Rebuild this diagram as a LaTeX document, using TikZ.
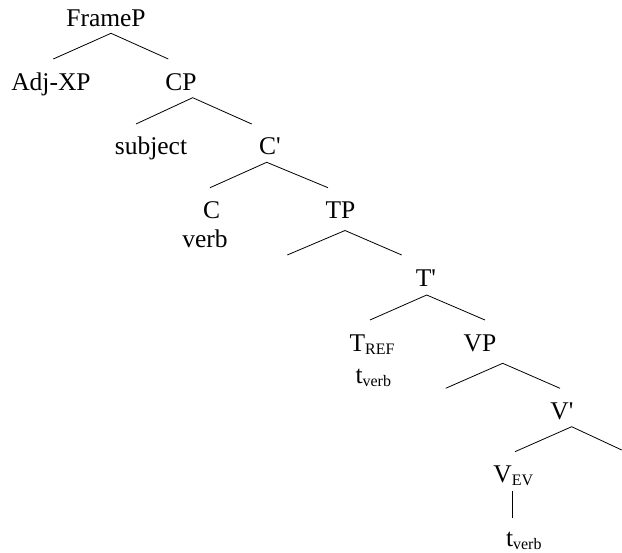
\documentclass[tikz,border=0pt]{standalone}
\usepackage{fontspec}
\setmainfont{Liberation Serif}
\newcommand{\lowsub}[1]{\raisebox{-3pt}{\fontsize{16}{16}\selectfont #1}}

\begin{document}
\begin{tikzpicture}[x=1pt,y=-1pt,
    lbl/.style={font=\fontsize{25.5}{30}\selectfont, anchor=base, inner sep=0pt},
    branch/.style={line width=0.8pt}]
    \useasboundingbox (0,0) rectangle (622,553);
    % % ----- nodes ----- % %
    \node[lbl] (FrameP) at (106,26.7) {FrameP};
    \node[lbl] (AdjXP) at (51,90.7) {Adj-XP};
    \node[lbl] (CP) at (181,90.7) {CP};
    \node[lbl] (subject) at (151,155) {subject};
    \node[lbl] (Cbar) at (270,155) {C\textquotesingle};
    \node[lbl] (C) at (211.7,218.5) {C};
    \node[lbl] (verb) at (205,248) {verb};
    \node[lbl] (TP) at (340.5,218.5) {TP};
    \node[lbl] (Tbar) at (426,286.7) {T\textquotesingle};
    \node[lbl] (Tref) at (372,351.5) {T\lowsub{REF}};
    \node[lbl] (tverbT) at (373.3,384) {t\lowsub{verb}};
    \node[lbl] (VP) at (480,351.5) {VP};
    \node[lbl] (Vbar) at (562,420) {V\textquotesingle};
    \node[lbl] (Vev) at (513.3,483) {V\lowsub{EV}};
    \node[lbl] (tverbV) at (523.8,547) {t\lowsub{verb}};
    % % ----- branch points ----- % %
    \coordinate (FrameP-top) at (111,33.3);   \coordinate (FrameP-l) at (53.3,59);   \coordinate (FrameP-r) at (168.3,59);
    \coordinate (CP-top) at (192.7,97.7);     \coordinate (CP-l) at (136,124);       \coordinate (CP-r) at (251.7,124);
    \coordinate (Cbar-top) at (266.7,162.3);  \coordinate (Cbar-l) at (210,187.7);   \coordinate (Cbar-r) at (328,187.7);
    \coordinate (TP-top) at (345,230.5);      \coordinate (TP-l) at (287.3,255);     \coordinate (TP-r) at (401.7,255);
    \coordinate (Tbar-top) at (426.7,295);    \coordinate (Tbar-l) at (370,320);     \coordinate (Tbar-r) at (485,320);
    \coordinate (VP-top) at (502.7,363.3);    \coordinate (VP-l) at (445.7,388.3);   \coordinate (VP-r) at (560,388.3);
    \coordinate (Vbar-top) at (571.7,426.7);  \coordinate (Vbar-l) at (515,451.7);   \coordinate (Vbar-r) at (621.7,450);
    \coordinate (Vev-top) at (512.3,491);     \coordinate (Vev-bot) at (512.3,518);
    % % ----- branches ----- % %
    \draw[branch] (FrameP-l) -- (FrameP-top) -- (FrameP-r);   % FrameP
    \draw[branch] (CP-l) -- (CP-top) -- (CP-r);               % CP
    \draw[branch] (Cbar-l) -- (Cbar-top) -- (Cbar-r);         % C'
    \draw[branch] (TP-l) -- (TP-top) -- (TP-r);               % TP
    \draw[branch] (Tbar-l) -- (Tbar-top) -- (Tbar-r);         % T'
    \draw[branch] (VP-l) -- (VP-top) -- (VP-r);               % VP
    \draw[branch] (Vbar-l) -- (Vbar-top) -- (Vbar-r);         % V'
    \draw[branch] (Vev-top) -- (Vev-bot);                     % V_EV - t
\end{tikzpicture}
\end{document}
